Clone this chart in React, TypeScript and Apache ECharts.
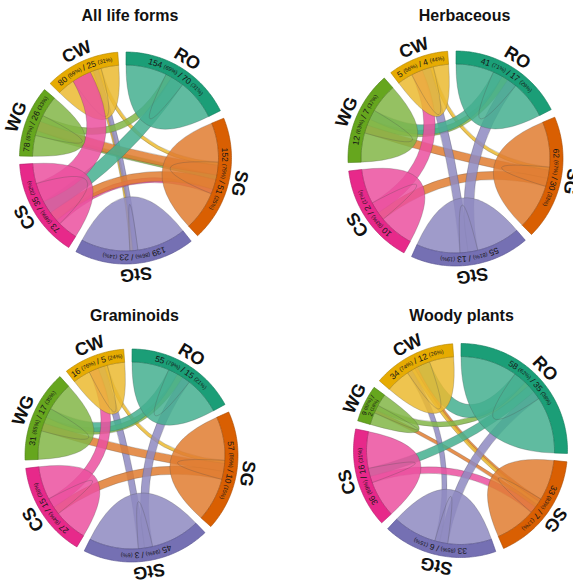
import { useEffect, useRef } from 'react';
import * as echarts from 'echarts';

type Flow = [number, number, number];

const SECTORS = ['RO', 'SG', 'StG', 'CS', 'WG', 'CW'];
const SECTOR_COLORS = ['#1B9E77', '#D95F02', '#7570B3', '#E7298A', '#66A61E', '#E6AB02'];
const BAND_EDGE_COLORS = ['#137a5b', '#a84a02', '#55508f', '#b01d69', '#4b7d15', '#b08302'];

const PANEL_TITLES = ['All life forms', 'Herbaceous', 'Graminoids', 'Woody plants'];

// Flows between categories: [from, to, width]; diagonal entries are species staying put
const allLifeFormsFlows: Flow[] = [
  [0, 0, 25.5], [0, 3, 8],
  [1, 1, 24.5], [1, 3, 6], [1, 4, 6],
  [2, 2, 30.5], [2, 5, 3],
  [3, 3, 12.5], [3, 5, 12], [3, 1, 3],
  [4, 4, 13], [4, 0, 4], [4, 1, 3],
  [5, 5, 11], [5, 1, 2], [5, 2, 2],
];
const herbaceousFlows: Flow[] = [
  [0, 0, 23.5], [0, 4, 6],
  [1, 1, 28], [1, 4, 5], [1, 3, 5],
  [2, 2, 27], [2, 0, 6], [2, 5, 5],
  [3, 3, 21.5], [3, 5, 7],
  [4, 4, 18], [4, 0, 4],
  [5, 5, 9.5], [5, 1, 2],
];
const graminoidsFlows: Flow[] = [
  [0, 0, 23.5], [0, 4, 6],
  [1, 1, 27.5], [1, 4, 5], [1, 3, 5],
  [2, 2, 31], [2, 0, 5], [2, 5, 4],
  [3, 3, 21], [3, 5, 6],
  [4, 4, 18], [4, 0, 4],
  [5, 5, 11], [5, 1, 2],
];
const woodyFlows: Flow[] = [
  [0, 0, 35], [0, 5, 8], [0, 3, 5],
  [1, 1, 25], [1, 4, 2], [1, 5, 2],
  [2, 2, 27], [2, 0, 5], [2, 5, 3],
  [3, 3, 22.5], [3, 1, 4],
  [4, 4, 7.5], [4, 0, 3],
  [5, 5, 15], [5, 1, 2],
];

// Per category: [unchanged, unchanged %, shifted, shifted %]
const allLifeFormsCounts = [
  [154, 69, 70, 31], [152, 75, 51, 25], [139, 86, 23, 14],
  [73, 68, 35, 32], [78, 67, 26, 33], [80, 69, 25, 31],
];
const herbaceousCounts = [
  [41, 71, 17, 29], [62, 67, 30, 33], [55, 81, 13, 19],
  [10, 83, 2, 17], [12, 63, 7, 37], [5, 56, 4, 44],
];
const graminoidsCounts = [
  [55, 79, 15, 21], [57, 85, 10, 15], [45, 94, 3, 6],
  [27, 64, 15, 36], [31, 65, 17, 35], [16, 76, 5, 24],
];
const woodyCounts = [
  [58, 62, 35, 38], [33, 83, 7, 17], [33, 85, 6, 15],
  [36, 69, 16, 31], [9, 82, 2, 18], [34, 74, 12, 26],
];

const PANEL_FLOWS = [allLifeFormsFlows, herbaceousFlows, graminoidsFlows, woodyFlows];
const PANEL_COUNTS = [allLifeFormsCounts, herbaceousCounts, graminoidsCounts, woodyCounts];

const PANEL_GEOMETRY = [
  { cx: 125.5, cy: 158, r: 106, titleX: 130, titleY: 15 },
  { cx: 455.5, cy: 158.5, r: 107.5, titleX: 464.5, titleY: 15 },
  { cx: 131.5, cy: 455.5, r: 106.5, titleX: 134.5, titleY: 315 },
  { cx: 460.5, cy: 450.5, r: 107, titleX: 461.5, titleY: 315 },
];

const FONT_FAMILY = '"Liberation Sans", Arial, Helvetica, sans-serif';
const BAND_PX = 13;
const GAP_DEG = 4.5;
const START_DEG = 0.3;
const RIBBON_TINT = 0.82;
const RIBBON_OPACITY = 0.85;
const EDGE = 'rgba(70,70,70,0.5)';
const NAME_OFFSET = 11;

// lighten a colour towards white, then apply an opacity
const ribbonFill = (hex: string) => {
  const n = parseInt(hex.slice(1), 16);
  const ch = [(n >> 16) & 255, (n >> 8) & 255, n & 255].map((v) =>
    Math.round(v * RIBBON_TINT + 255 * (1 - RIBBON_TINT)),
  );
  return `rgba(${ch[0]},${ch[1]},${ch[2]},${RIBBON_OPACITY})`;
};

let measureCtx: CanvasRenderingContext2D | null = null;
const textWidth = (text: string, font: string) => {
  if (!measureCtx) measureCtx = document.createElement('canvas').getContext('2d');
  if (!measureCtx) return text.length * 4;
  measureCtx.font = font;
  return measureCtx.measureText(text).width;
};

function buildLayout(flows: Flow[]) {
  const n = SECTORS.length;
  const span = new Array(n).fill(0);
  flows.forEach(([i, j, v]) => {
    span[i] += v;
    span[j] += v;
  });
  const total = span.reduce((a, b) => a + b, 0);
  const axisMax = (total * 360) / (360 - n * GAP_DEG);
  const unitPerDeg = axisMax / 360;
  const gap = GAP_DEG * unitPerDeg;
  const sectorStart: number[] = [];
  let pos = START_DEG * unitPerDeg;
  for (let i = 0; i < n; i++) {
    sectorStart.push(pos);
    pos += span[i] + gap;
  }
  const src: [number, number][] = flows.map(() => [0, 0]);
  const tgt: [number, number][] = flows.map(() => [0, 0]);
  const find = (a: number, b: number) => flows.findIndex((f) => f[0] === a && f[1] === b);
  for (let i = 0; i < n; i++) {
    const slots: [number, 'src' | 'tgt'][] = [];
    const self = find(i, i);
    if (self >= 0) slots.push([self, 'src']);
    for (let d = n - 1; d >= 1; d--) {
      const j = (i + d) % n;
      const out = find(i, j);
      const inc = find(j, i);
      if (out >= 0) slots.push([out, 'src']);
      if (inc >= 0) slots.push([inc, 'tgt']);
    }
    if (self >= 0) slots.push([self, 'tgt']);
    let p = sectorStart[i];
    slots.forEach(([k, side]) => {
      const v = flows[k][2];
      (side === 'src' ? src : tgt)[k] = [p, p + v];
      p += v;
    });
  }
  return { span, axisMax, unitPerDeg, sectorStart, src, tgt };
}

type Item =
  | { kind: 'ribbon'; flow: number }
  | { kind: 'band'; sector: number }
  | { kind: 'bandLabel'; sector: number }
  | { kind: 'name'; sector: number };

function buildItems(flows: Flow[]): Item[] {
  const order = flows.map((_, i) => i).sort((a, b) => flows[a][2] - flows[b][2]);
  return [
    ...order.map((i) => ({ kind: 'ribbon', flow: i }) as Item),
    ...SECTORS.map((_, s) => ({ kind: 'band', sector: s }) as Item),
    ...SECTORS.map((_, s) => ({ kind: 'bandLabel', sector: s }) as Item),
    ...SECTORS.map((_, s) => ({ kind: 'name', sector: s }) as Item),
  ];
}

const fmt = (p: number[]) => `${p[0].toFixed(2)} ${p[1].toFixed(2)}`;
const dist = (a: number[], b: number[]) => Math.hypot(a[0] - b[0], a[1] - b[1]);

function makeRenderItem(k: number) {
  const flows = PANEL_FLOWS[k];
  const counts = PANEL_COUNTS[k];
  const L = buildLayout(flows);
  const geo = PANEL_GEOMETRY[k];
  const rIn = (geo.r - BAND_PX) / geo.r;
  const items = buildItems(flows);

  const renderItem = (params: any, api: any) => {
    const it = items[params.dataIndex];
    const coord = (r: number, a: number) => api.coord([r, a]) as number[];
    const c = coord(0, 0);
    const arc = (r: number, a0: number, a1: number) => {
      const steps = Math.max(2, Math.ceil(Math.abs(a1 - a0) / L.unitPerDeg));
      const pts: number[][] = [];
      for (let i = 0; i <= steps; i++) pts.push(coord(r, a0 + ((a1 - a0) * i) / steps));
      return pts;
    };
    const rot = (p: number[]) => -Math.atan2(p[0] - c[0], -(p[1] - c[1]));
    const line = (pts: number[][]) => pts.map((p) => `L${fmt(p)}`).join('');

    if (it.kind === 'ribbon') {
      const [from, to] = flows[it.flow];
      const s = L.src[it.flow];
      const t = L.tgt[it.flow];
      const fill = ribbonFill(SECTOR_COLORS[from]);
      if (from === to) {
        const outer = arc(rIn, s[0], t[1]);
        const d = `M${fmt(outer[0])}${line(outer.slice(1))}Q${fmt(c)} ${fmt(outer[0])}Z`;
        const inner = `M${fmt(coord(rIn, s[1]))}Q${fmt(c)} ${fmt(coord(rIn, t[0]))}`;
        return {
          type: 'group',
          children: [
            { type: 'path', shape: { pathData: d }, style: { fill, stroke: EDGE, lineWidth: 0.5 } },
            { type: 'path', shape: { pathData: inner }, style: { fill: 'none', stroke: EDGE, lineWidth: 0.5 } },
          ],
        };
      }
      const sa = arc(rIn, s[0], s[1]);
      const ta = arc(rIn, t[0], t[1]);
      const s0 = sa[0];
      const s1 = sa[sa.length - 1];
      const t0 = ta[0];
      const t1 = ta[ta.length - 1];
      // keep the ribbon roughly as wide in the middle as at its ends
      const m1 = [0.25 * s1[0] + 0.5 * c[0] + 0.25 * t0[0], 0.25 * s1[1] + 0.5 * c[1] + 0.25 * t0[1]];
      const m2 = [0.25 * t1[0] + 0.5 * c[0] + 0.25 * s0[0], 0.25 * t1[1] + 0.5 * c[1] + 0.25 * s0[1]];
      const want = (dist(s0, s1) + dist(t0, t1)) / 2;
      let nx = m1[0] - m2[0];
      let ny = m1[1] - m2[1];
      const sep = Math.hypot(nx, ny);
      if (sep < 1e-6) {
        const dx = (t0[0] + t1[0] - s0[0] - s1[0]) / 2;
        const dy = (t0[1] + t1[1] - s0[1] - s1[1]) / 2;
        nx = -dy;
        ny = dx;
      }
      const nl = Math.hypot(nx, ny) || 1;
      nx /= nl;
      ny /= nl;
      const D = Math.max(0, want - sep);
      const c1 = [c[0] + nx * D, c[1] + ny * D];
      const c2 = [c[0] - nx * D, c[1] - ny * D];
      const d =
        `M${fmt(s0)}${line(sa.slice(1))}` +
        `Q${fmt(c1)} ${fmt(t0)}${line(ta.slice(1))}` +
        `Q${fmt(c2)} ${fmt(s0)}Z`;
      return { type: 'path', shape: { pathData: d }, style: { fill, stroke: EDGE, lineWidth: 0.5 } };
    }

    const s = it.sector;
    const a0 = L.sectorStart[s];
    const a1 = a0 + L.span[s];
    const mid = (a0 + a1) / 2;

    if (it.kind === 'band') {
      const out = arc(1, a0, a1);
      const inn = arc(rIn, a1, a0);
      const d = `M${fmt(out[0])}${line(out.slice(1))}${line(inn)}Z`;
      return {
        type: 'path',
        shape: { pathData: d },
        style: { fill: SECTOR_COLORS[s], stroke: BAND_EDGE_COLORS[s], lineWidth: 0.6 },
      };
    }

    if (it.kind === 'bandLabel') {
      const v = counts[s];
      const narrow = L.span[s] / L.unitPerDeg < 28;
      const numFont = `${narrow ? 6.5 : 8.5}px ${FONT_FAMILY}`;
      const pctFont = `${narrow ? 4.8 : 5.6}px ${FONT_FAMILY}`;
      const tokens = [
        { text: String(v[0]), font: numFont },
        { text: `(${v[1]}%)`, font: pctFont },
        { text: '/', font: numFont },
        { text: String(v[2]), font: numFont },
        { text: `(${v[3]}%)`, font: pctFont },
      ];
      const lines = narrow ? [tokens.slice(0, 3), tokens.slice(3)] : [tokens];
      const rMidPx = geo.r - BAND_PX / 2;
      const radii = narrow ? [rMidPx + 3, rMidPx - 3] : [rMidPx];
      const space = narrow ? 1.6 : 2.1;
      const children: any[] = [];
      lines.forEach((toks, li) => {
        const rPx = radii[li];
        const widths = toks.map((t) => textWidth(t.text, t.font));
        const total = widths.reduce((a, b) => a + b, 0) + space * (toks.length - 1);
        const unitsPerPx = L.axisMax / (2 * Math.PI * rPx);
        let cur = mid - (total / 2) * unitsPerPx;
        toks.forEach((t, i) => {
          const p = coord(rPx / geo.r, cur + (widths[i] / 2) * unitsPerPx);
          children.push({
            type: 'text',
            x: p[0],
            y: p[1],
            rotation: rot(p),
            style: {
              text: t.text,
              font: t.font,
              fill: '#161616',
              align: 'center',
              verticalAlign: 'middle',
              textAlign: 'center',
              textVerticalAlign: 'middle',
            },
          });
          cur += (widths[i] + space) * unitsPerPx;
        });
      });
      return { type: 'group', children };
    }

    const p = coord((geo.r + NAME_OFFSET) / geo.r, mid);
    return {
      type: 'text',
      x: p[0],
      y: p[1],
      rotation: rot(p),
      style: {
        text: SECTORS[s],
        font: `bold 18px ${FONT_FAMILY}`,
        fill: '#111',
        align: 'center',
        verticalAlign: 'middle',
        textAlign: 'center',
        textVerticalAlign: 'middle',
      },
    };
  };

  return { renderItem, items, axisMax: L.axisMax };
}

export default function App() {
  const ref = useRef<HTMLDivElement>(null);

  useEffect(() => {
    if (!ref.current) return;
    const chart = echarts.init(ref.current, undefined, { renderer: 'svg' });
    const panels = PANEL_FLOWS.map((_, k) => makeRenderItem(k));
    const hidden = {
      show: false,
      axisLine: { show: false },
      axisTick: { show: false },
      axisLabel: { show: false },
      splitLine: { show: false },
    };

    chart.setOption({
      animation: false,
      backgroundColor: '#ffffff',
      polar: PANEL_GEOMETRY.map((g) => ({ center: [g.cx, g.cy], radius: [0, g.r] })),
      angleAxis: panels.map((p, k) => ({
        ...hidden,
        polarIndex: k,
        type: 'value',
        min: 0,
        max: p.axisMax,
        startAngle: 90,
        clockwise: true,
      })),
      radiusAxis: panels.map((_, k) => ({ ...hidden, polarIndex: k, type: 'value', min: 0, max: 1 })),
      graphic: {
        elements: PANEL_TITLES.map((t, k) => ({
          type: 'text',
          x: PANEL_GEOMETRY[k].titleX,
          y: PANEL_GEOMETRY[k].titleY,
          style: {
            text: t,
            font: `bold 16px ${FONT_FAMILY}`,
            fill: '#111',
            align: 'center',
            verticalAlign: 'middle',
            textAlign: 'center',
            textVerticalAlign: 'middle',
          },
        })),
      },
      series: panels.map((p, k) => ({
        type: 'custom',
        coordinateSystem: 'polar',
        polarIndex: k,
        silent: true,
        clip: false,
        renderItem: p.renderItem,
        data: p.items.map((_, i) => [0.5, 0, i]),
      })),
    });

    return () => chart.dispose();
  }, []);

  return (
    <div
      ref={ref}
      style={{ position: 'fixed', left: 0, top: 0, width: 573, height: 580, background: '#fff' }}
    />
  );
}
